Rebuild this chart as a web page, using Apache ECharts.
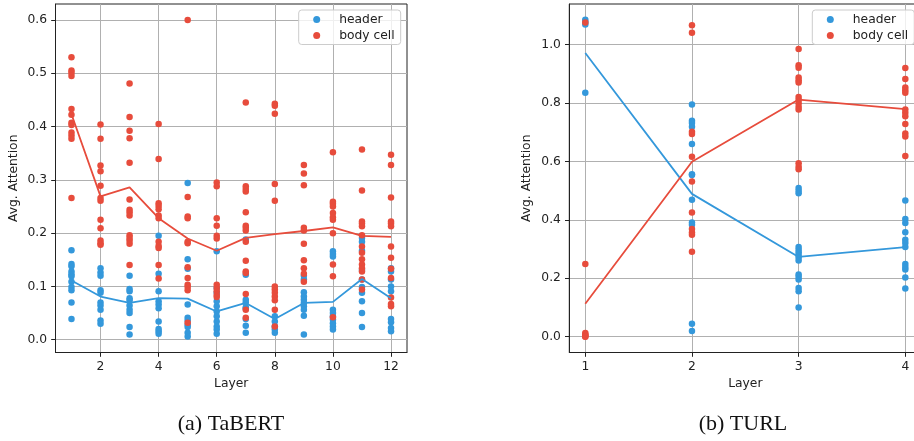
<!DOCTYPE html>
<html>
<head>
<meta charset="utf-8">
<script src="https://cdn.jsdelivr.net/npm/echarts@6/dist/echarts.min.js"></script>
<style>
  html, body { margin: 0; padding: 0; background: #ffffff; }
  #chart { width: 914px; height: 441px; }
</style>
</head>
<body>
<div id="chart"></div>
<script>
// ---- TaBERT: per-layer attention values ----
const tabertLayers = [1, 2, 3, 4, 5, 6, 7, 8, 9, 10, 11, 12];
const tabertHeader = [
  [0.168, 0.142, 0.138, 0.128, 0.123, 0.119, 0.109, 0.099, 0.093, 0.070, 0.039],
  [0.134, 0.126, 0.120, 0.093, 0.088, 0.070, 0.064, 0.056, 0.036, 0.030],
  [0.120, 0.095, 0.091, 0.078, 0.074, 0.064, 0.056, 0.050, 0.024, 0.010],
  [0.195, 0.124, 0.091, 0.072, 0.066, 0.059, 0.034, 0.020, 0.016, 0.011],
  [0.294, 0.151, 0.133, 0.066, 0.041, 0.036, 0.028, 0.024, 0.013, 0.006],
  [0.166, 0.097, 0.088, 0.072, 0.063, 0.053, 0.044, 0.034, 0.025, 0.019, 0.011],
  [0.188, 0.122, 0.075, 0.070, 0.061, 0.058, 0.039, 0.026, 0.013],
  [0.044, 0.034, 0.025, 0.019, 0.013],
  [0.120, 0.113, 0.089, 0.081, 0.075, 0.069, 0.063, 0.056, 0.045, 0.010],
  [0.166, 0.161, 0.156, 0.056, 0.050, 0.044, 0.038, 0.031, 0.025, 0.019],
  [0.191, 0.184, 0.167, 0.131, 0.113, 0.099, 0.088, 0.072, 0.050, 0.024],
  [0.134, 0.128, 0.113, 0.100, 0.091, 0.039, 0.033, 0.022, 0.016]
];
const tabertBody = [
  [0.530, 0.505, 0.501, 0.495, 0.433, 0.422, 0.407, 0.403, 0.389, 0.383, 0.377, 0.266],
  [0.404, 0.377, 0.327, 0.316, 0.289, 0.266, 0.261, 0.225, 0.209, 0.186, 0.181, 0.178],
  [0.481, 0.418, 0.392, 0.378, 0.332, 0.263, 0.244, 0.239, 0.233, 0.196, 0.191, 0.186, 0.180, 0.140],
  [0.405, 0.339, 0.256, 0.251, 0.245, 0.233, 0.228, 0.184, 0.176, 0.172, 0.140, 0.115],
  [0.600, 0.268, 0.231, 0.228, 0.184, 0.181, 0.136, 0.116, 0.103, 0.099, 0.093, 0.032],
  [0.295, 0.288, 0.228, 0.214, 0.195, 0.190, 0.103, 0.097, 0.091, 0.084, 0.080],
  [0.445, 0.288, 0.283, 0.278, 0.239, 0.214, 0.210, 0.205, 0.184, 0.148, 0.128, 0.125, 0.086, 0.056, 0.041],
  [0.443, 0.439, 0.424, 0.292, 0.261, 0.100, 0.094, 0.088, 0.081, 0.074, 0.056, 0.025],
  [0.328, 0.312, 0.290, 0.210, 0.205, 0.180, 0.149, 0.134, 0.124, 0.109],
  [0.352, 0.259, 0.255, 0.250, 0.238, 0.230, 0.225, 0.200, 0.141, 0.119, 0.042],
  [0.357, 0.280, 0.222, 0.218, 0.213, 0.196, 0.175, 0.163, 0.151, 0.141, 0.134, 0.128, 0.113, 0.094],
  [0.347, 0.328, 0.267, 0.222, 0.218, 0.213, 0.175, 0.154, 0.133, 0.116, 0.079, 0.067, 0.063]
];
const tabertHeaderMean = [0.111, 0.081, 0.069, 0.078, 0.077, 0.053, 0.069, 0.039, 0.069, 0.071, 0.114, 0.078];
const tabertBodyMean = [0.423, 0.269, 0.286, 0.228, 0.190, 0.167, 0.191, 0.198, 0.204, 0.211, 0.195, 0.193];

// ---- TURL: per-layer attention values ----
const turlLayers = [1, 2, 3, 4];
const turlHeader = [
  [1.085, 1.077, 1.069, 0.835],
  [0.795, 0.739, 0.732, 0.719, 0.660, 0.556, 0.554, 0.469, 0.391, 0.383, 0.044, 0.020],
  [0.509, 0.500, 0.491, 0.307, 0.298, 0.289, 0.280, 0.271, 0.261, 0.213, 0.205, 0.196, 0.167, 0.156, 0.100],
  [0.466, 0.403, 0.389, 0.358, 0.332, 0.321, 0.307, 0.249, 0.239, 0.230, 0.203, 0.165]
];
const turlBody = [
  [1.076, 0.249, 0.013, 0.008, 0.004, 0.001, 0.000],
  [1.066, 1.041, 0.702, 0.694, 0.616, 0.531, 0.425, 0.369, 0.357, 0.349, 0.291],
  [0.985, 0.929, 0.921, 0.887, 0.878, 0.870, 0.821, 0.810, 0.799, 0.787, 0.778, 0.594, 0.582, 0.573],
  [0.920, 0.882, 0.853, 0.844, 0.835, 0.778, 0.767, 0.755, 0.728, 0.696, 0.685, 0.619]
];
const turlHeaderMean = [0.971, 0.489, 0.273, 0.307];
const turlBodyMean = [0.113, 0.599, 0.812, 0.779];

// ---- tick labels ----
const tabertXTicks = [2, 4, 6, 8, 10, 12];
const tabertYTicks = [0, 0.1, 0.2, 0.3, 0.4, 0.5, 0.6];
const turlXTicks = [1, 2, 3, 4];
const turlYTicks = [0, 0.2, 0.4, 0.6, 0.8, 1.0];

const BLUE = '#3498db';
const RED = '#e74c3c';
const FONT = 'DejaVu Sans';
const FS = 12.3;

function points(layers, groups) {
  const out = [];
  groups.forEach((vals, i) => vals.forEach(v => out.push([layers[i], v])));
  return out;
}
function pairs(layers, vals) {
  return vals.map((v, i) => [layers[i], v]);
}

function axis(gridIndex, min, max, ticks, fmt, extra) {
  return Object.assign({
    type: 'value',
    gridIndex: gridIndex,
    min: min,
    max: max,
    axisLine: { show: true, onZero: false, lineStyle: { color: '#222', width: 1 } },
    axisTick: { show: true, customValues: ticks, length: 4.3, lineStyle: { color: '#222', width: 1 } },
    axisLabel: { customValues: ticks, margin: 8.4, color: '#222', fontFamily: FONT, fontSize: FS, formatter: fmt },
    splitLine: { show: true, customValues: ticks, lineStyle: { color: '#b0b0b0', width: 1 } },
    nameTextStyle: { color: '#222', fontFamily: FONT, fontSize: FS }
  }, extra);
}
const fmt1 = v => v.toFixed(1);
const fmtInt = v => String(Math.round(v));

function scatter(name, xi, data, color) {
  return { type: 'scatter', name: name, xAxisIndex: xi, yAxisIndex: xi, data: data,
    symbol: 'circle', symbolSize: 6.5, itemStyle: { color: color, opacity: 1 }, z: 2, silent: true };
}
function meanLine(name, xi, data, color) {
  return { type: 'line', name: name, xAxisIndex: xi, yAxisIndex: xi, data: data,
    showSymbol: false, symbol: 'none', lineStyle: { color: color, width: 1.8 }, itemStyle: { color: color }, z: 3, silent: true };
}
function legendAt(left) {
  return {
    left: left, top: 10, orient: 'vertical',
    data: ['header', 'body cell'],
    icon: 'circle', itemWidth: 7, itemHeight: 7, itemGap: 4,
    padding: [3.5, 6, 3, 14.5],
    backgroundColor: 'rgba(255,255,255,0.8)',
    borderColor: '#cccccc', borderWidth: 1, borderRadius: 3,
    textStyle: { color: '#222', fontFamily: FONT, fontSize: FS, padding: [0, 0, 0, 14] },
    selectedMode: false
  };
}

const chart = echarts.init(document.getElementById('chart'), null, { renderer: 'canvas' });
chart.setOption({
  animation: false,
  backgroundColor: '#ffffff',
  grid: [
    { left: 55.5, top: 4, width: 351.5, height: 348.5, show: true, borderColor: '#222', borderWidth: 1,
      backgroundColor: 'transparent', containLabel: false, outerBoundsMode: 'none' },
    { left: 569.3, top: 4, width: 352, height: 348.5, show: true, borderColor: '#222', borderWidth: 1,
      backgroundColor: 'transparent', containLabel: false, outerBoundsMode: 'none' }
  ],
  xAxis: [
    axis(0, 0.45, 12.55, tabertXTicks, fmtInt, { name: 'Layer', nameLocation: 'middle', nameGap: 24 }),
    axis(1, 0.85, 4.15, turlXTicks, fmtInt, { name: 'Layer', nameLocation: 'middle', nameGap: 24 })
  ],
  yAxis: [
    axis(0, -0.024, 0.63, tabertYTicks, fmt1, { name: 'Avg. Attention', nameLocation: 'middle', nameGap: 36, nameRotate: 90 }),
    axis(1, -0.054, 1.139, turlYTicks, fmt1, { name: 'Avg. Attention', nameLocation: 'middle', nameGap: 36, nameRotate: 90 })
  ],
  legend: [legendAt(298.7), legendAt(812.3)],
  series: [
    scatter('header', 0, points(tabertLayers, tabertHeader), BLUE),
    scatter('body cell', 0, points(tabertLayers, tabertBody), RED),
    meanLine('header mean', 0, pairs(tabertLayers, tabertHeaderMean), BLUE),
    meanLine('body cell mean', 0, pairs(tabertLayers, tabertBodyMean), RED),
    scatter('header', 1, points(turlLayers, turlHeader), BLUE),
    scatter('body cell', 1, points(turlLayers, turlBody), RED),
    meanLine('header mean', 1, pairs(turlLayers, turlHeaderMean), BLUE),
    meanLine('body cell mean', 1, pairs(turlLayers, turlBodyMean), RED)
  ],
  graphic: [
    { type: 'text', x: 231, y: 424, style: { text: '(a) TaBERT', fill: '#111', font: '22px "Liberation Serif"', textAlign: 'center', textVerticalAlign: 'middle' } },
    { type: 'text', x: 743, y: 424, style: { text: '(b) TURL', fill: '#111', font: '22px "Liberation Serif"', textAlign: 'center', textVerticalAlign: 'middle' } }
  ]
});
</script>
</body>
</html>
